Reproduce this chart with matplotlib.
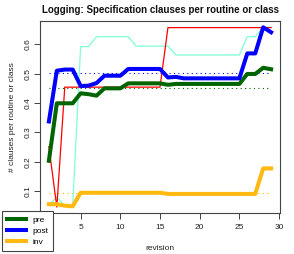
import matplotlib
matplotlib.use("Agg")
import matplotlib.pyplot as plt
import numpy as np

plt.rcParams['font.family'] = ['Liberation Sans', 'DejaVu Sans']

revision = list(range(1, 30))

pre = [0.203, 0.399, 0.399, 0.399, 0.433, 0.430, 0.425, 0.450, 0.450, 0.450,
       0.467, 0.467, 0.467, 0.467, 0.467, 0.462, 0.465, 0.465, 0.465, 0.465,
       0.465, 0.465, 0.465, 0.465, 0.465, 0.499, 0.499, 0.520, 0.515]
post = [0.337, 0.510, 0.514, 0.514, 0.458, 0.459, 0.468, 0.493, 0.493, 0.493,
        0.516, 0.516, 0.516, 0.516, 0.516, 0.487, 0.489, 0.484, 0.484, 0.484,
        0.484, 0.484, 0.484, 0.484, 0.484, 0.569, 0.569, 0.658, 0.641]
inv = [0.055, 0.055, 0.050, 0.048, 0.094, 0.094, 0.094, 0.094, 0.094, 0.094,
       0.094, 0.094, 0.094, 0.094, 0.094, 0.090, 0.090, 0.090, 0.090, 0.090,
       0.090, 0.090, 0.090, 0.090, 0.090, 0.090, 0.090, 0.177, 0.177]
red_series = [0.251, 0.045, 0.454, 0.454, 0.454, 0.454, 0.454, 0.454, 0.454, 0.454,
              0.454, 0.454, 0.454, 0.454, 0.454, 0.657, 0.657, 0.657, 0.657, 0.657,
              0.657, 0.657, 0.657, 0.657, 0.657, 0.657, 0.657, 0.657, 0.657]
cyan_series = [0.052, 0.080, 0.049, 0.049, 0.592, 0.592, 0.626, 0.626, 0.626, 0.626,
               0.626, 0.594, 0.594, 0.594, 0.594, 0.594, 0.5635, 0.5635, 0.5635, 0.5635,
               0.5635, 0.5635, 0.5635, 0.5635, 0.5635, 0.626, 0.626, 0.658, 0.658]
ref_pre = 0.450
ref_post = 0.503
ref_inv = 0.092

xticks = [5, 10, 15, 20, 25, 30]
yticks = [0.1, 0.2, 0.3, 0.4, 0.5, 0.6]

W, H = 294, 254
fig = plt.figure(figsize=(W / 100, H / 100), dpi=100)
ax = fig.add_axes([40 / W, 1 - 213 / H, 240 / W, 192 / H])

c_pre = '#006400'
c_post = '#0000FF'
c_inv = '#FFB90F'

dot = (0, (1, 3))
ax.plot([revision[0], revision[-1]], [ref_post, ref_post], color=c_post, lw=0.8, ls=dot)
ax.plot([revision[0], revision[-1]], [ref_pre, ref_pre], color=c_pre, lw=0.8, ls=dot)
ax.plot([revision[0], revision[-1]], [ref_inv, ref_inv], color=c_inv, lw=0.8, ls=dot)

ax.plot(revision, cyan_series, color='#7FFFD4', lw=0.9)
ax.plot(revision, red_series, color='#FF0000', lw=0.9)
l_pre, = ax.plot(revision, pre, color=c_pre, lw=2.9, solid_joinstyle='round')
l_post, = ax.plot(revision, post, color=c_post, lw=2.9, solid_joinstyle='round')
l_inv, = ax.plot(revision, inv, color=c_inv, lw=2.9, solid_joinstyle='round')

ax.set_xlim(-0.12, 30.12)
ax.set_ylim(0.025, 0.6795)
ax.set_xticks(xticks)
ax.set_xticklabels([str(t) for t in xticks])
ax.set_yticks(yticks)
ax.set_yticklabels([f"{t:.1f}" for t in yticks], rotation=90, va='center')
ax.tick_params(axis='both', labelsize=6.0, length=4, width=0.7, color='#444444',
               labelcolor='#222222')
ax.tick_params(axis='x', pad=4.0)
ax.tick_params(axis='y', pad=2.2)
for s in ax.spines.values():
    s.set_color('#444444')
    s.set_linewidth(0.8)

fig.text(160 / W, 1 - 13.3 / H, "Logging: Specification clauses per routine or class",
         ha='center', va='baseline', fontsize=7.05, fontweight='bold', color='#111111')
fig.text(160 / W, 1 - 249.5 / H, "revision", ha='center', va='baseline',
         fontsize=6.0, color='#222222')
fig.text(13 / W, 1 - 117 / H, "# clauses per routine or class",
         ha='center', va='center', rotation=90, fontsize=6.0, color='#222222')

leg = fig.legend([l_pre, l_post, l_inv], ['pre', 'post', 'inv'],
                 loc='upper left', bbox_to_anchor=(2.3 / W, 1 - 210.7 / H),
                 bbox_transform=fig.transFigure, fontsize=6.0, frameon=True,
                 fancybox=False, borderaxespad=0, borderpad=0.6,
                 handlelength=2.3, handletextpad=0.7, labelspacing=0.42)
leg.get_frame().set_edgecolor('#444444')
leg.get_frame().set_linewidth(0.8)
leg.get_frame().set_facecolor('white')
leg.get_frame().set_alpha(1)
leg.set_zorder(10)

fig.savefig("out.png", dpi=100)
